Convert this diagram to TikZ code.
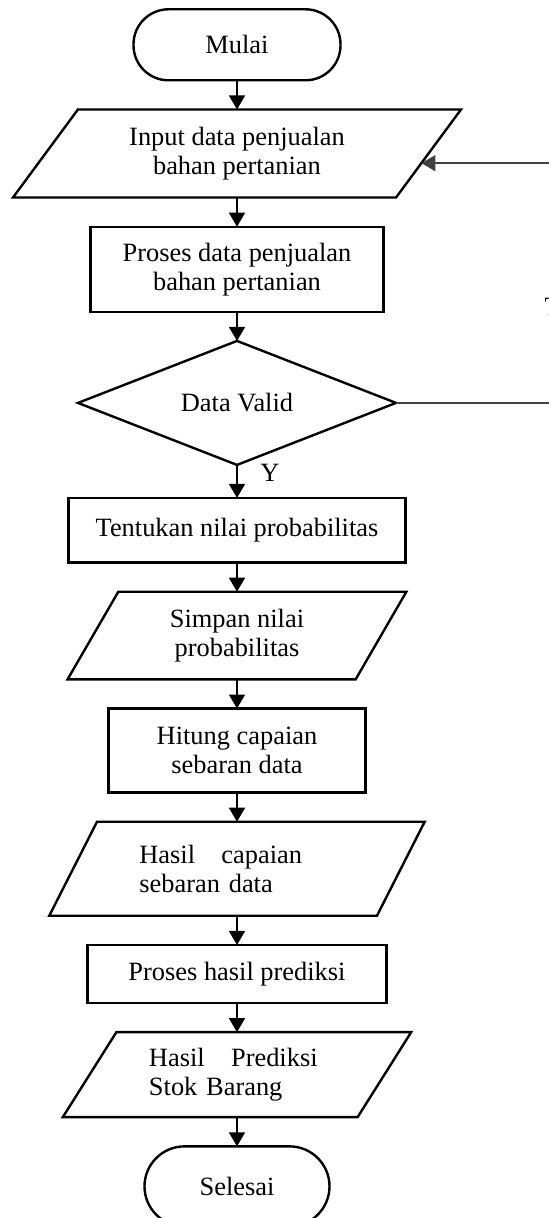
\documentclass[tikz,border=0pt]{standalone}
\usepackage{fontspec}
\setmainfont{Liberation Serif}
\usetikzlibrary{
    arrows.meta,
    positioning,
    shapes.geometric
}

\begin{document}
\begin{tikzpicture}[
        node distance=14.6pt,
        every node/.style={font=\fontsize{13.2}{14.5}\selectfont},
        box/.style={
            draw=black,
            line width=1.2pt,
            outer sep=0pt,
            inner sep=3pt,
            align=center
        },
        terminal/.style={box,rectangle,rounded corners=17.5pt,minimum height=35.5pt},
        process/.style={box,rectangle},
        io/.style={
            box,
            trapezium,
            trapezium left angle=50,
            trapezium right angle=130,
            trapezium stretches body
        },
        decision/.style={box,diamond,aspect=2.56,minimum width=159pt,minimum height=62pt},
        flow/.style={-{Triangle[length=7pt,width=8pt]},line width=0.8pt,draw=black},
        loopline/.style={flow,draw=black!75,line width=0.7pt}
    ]
        \useasboundingbox (0,0) rectangle (274.5pt,-609pt);
        \clip (0,0) rectangle (274.5pt,-609pt);

        \node[terminal, minimum width=103.5pt] (mulai) at (118.5pt,-22.4pt) {Mulai};
        \node[io, below=of mulai, trapezium left angle=45, trapezium right angle=135,
            minimum width=224pt, minimum height=44pt] (input)
            {Input data penjualan\\bahan pertanian};
        \node[process, below=of input, minimum width=146.5pt, minimum height=42.5pt] (proses)
            {Proses data penjualan\\bahan pertanian};
        \node[decision, below=of proses] (valid) {Data Valid};
        \node[process, below=16.5pt of valid, minimum width=168.5pt, minimum height=32.3pt] (tentukan)
            {Tentukan nilai probabilitas};
        \node[io, below=of tentukan, trapezium left angle=52, trapezium right angle=128,
            minimum width=169.4pt, minimum height=43.8pt] (simpan)
            {Simpan nilai\\probabilitas};
        \node[process, below=of simpan, minimum width=128.5pt, minimum height=42pt] (hitung)
            {Hitung capaian\\sebaran data};
        \node[io, below=of hitung, trapezium left angle=51.3, trapezium right angle=128.7,
            minimum width=187.7pt, minimum height=47pt, text width=97.6pt, align=left] (capaian)
            {Hasil\ \ \ capaian\\sebaran data};
        \node[process, below=of capaian, minimum width=149.4pt, minimum height=29pt] (prediksi)
            {Proses hasil prediksi};
        \node[io, below=of prediksi, trapezium left angle=50.5, trapezium right angle=129.5,
            minimum width=174.2pt, minimum height=42.5pt, text width=88pt, align=left] (stok)
            {Hasil\ \ \ Prediksi\\Stok Barang};
        \node[terminal, below=of stok, rounded corners=20pt,
            minimum width=92.5pt, minimum height=40pt] (selesai) {Selesai};

        \coordinate (turn) at (284pt,0);

        \draw[flow] (mulai) -- (input);
        \draw[flow] (input) -- (proses);
        \draw[flow] (proses) -- (valid);
        \draw[flow] (valid) -- node[pos=0.24, right, xshift=8pt] {Y} (tentukan);
        \draw[flow] (tentukan) -- (simpan);
        \draw[flow] (simpan) -- (hitung);
        \draw[flow] (hitung) -- (capaian);
        \draw[flow] (capaian) -- (prediksi);
        \draw[flow] (prediksi) -- (stok);
        \draw[flow] (stok) -- (selesai);
        \draw[loopline] (valid.east) -- (valid.east -| turn)
            |- node[pos=0.2, left] {T} (input.-3.2);
    \end{tikzpicture}
\end{document}
